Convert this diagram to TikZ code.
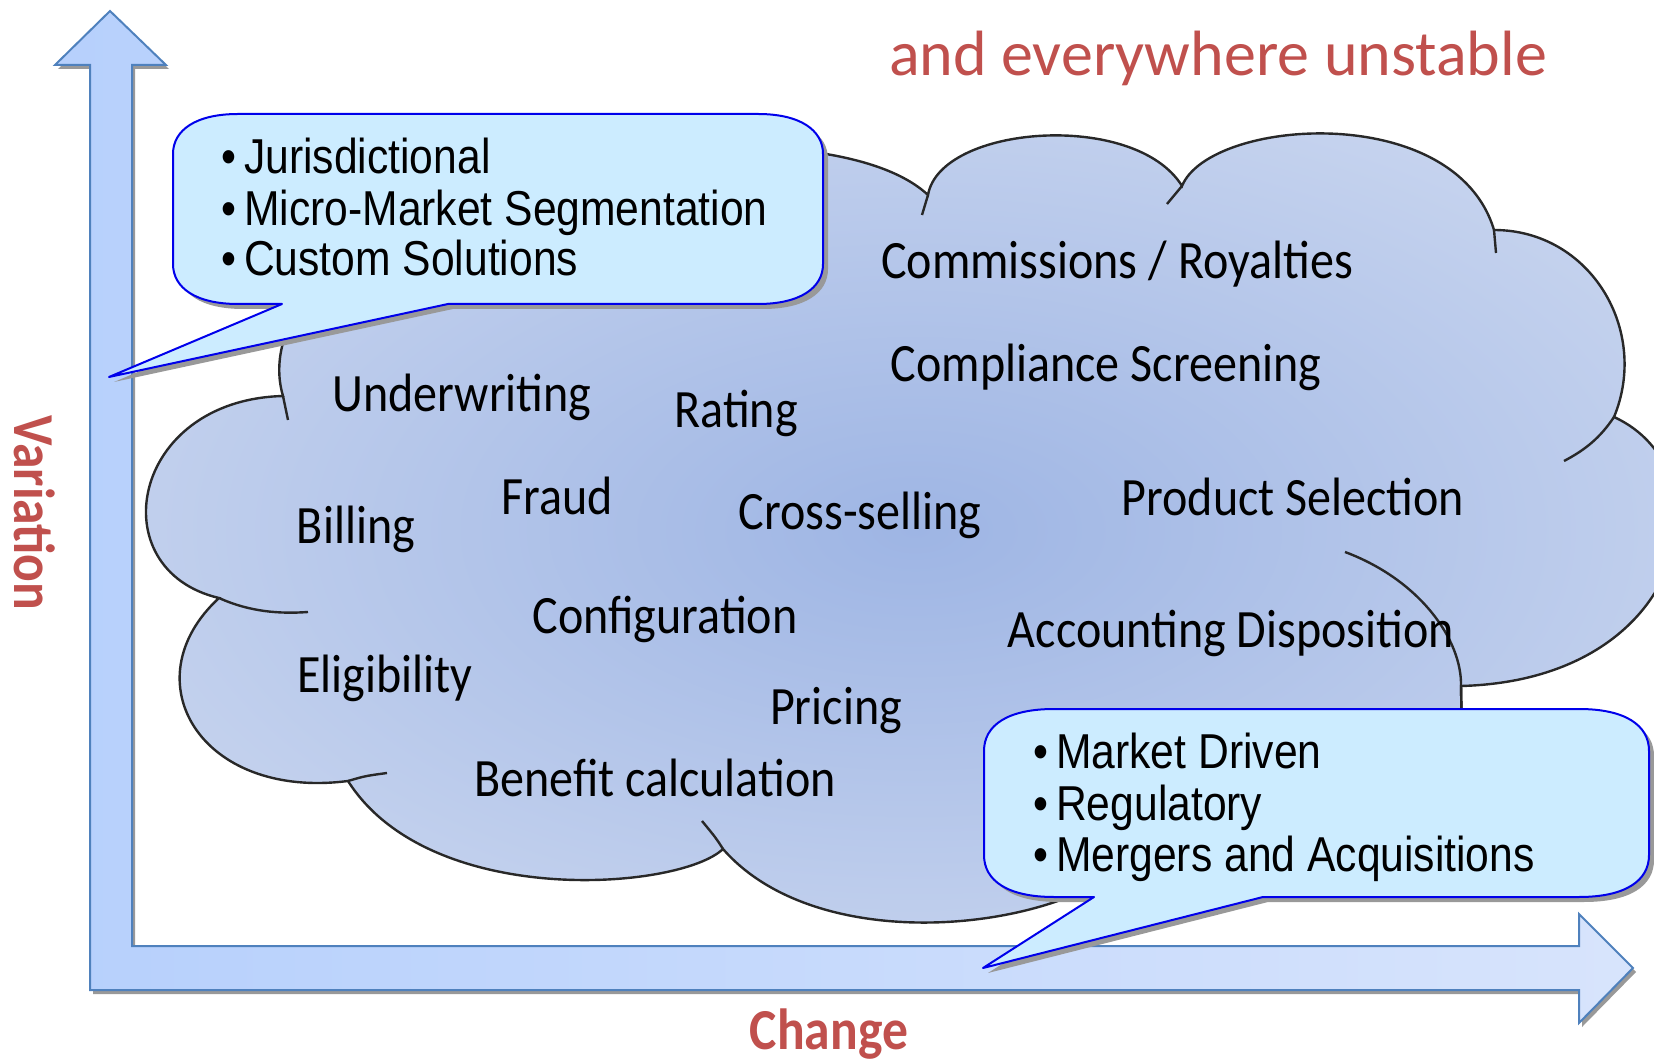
\documentclass[tikz,border=0pt]{standalone}
\usepackage{fontspec}
\setmainfont{Carlito}[FakeStretch=0.89]
\newfontfamily\titlefont{Carlito}
\newfontfamily\arialfont{Liberation Sans}[FakeStretch=0.87]
\usepackage{tikz}
\usetikzlibrary{positioning,calc}

\definecolor{titlered}{RGB}{192,80,77}
\definecolor{axisleft}{RGB}{166,198,252}
\definecolor{axisright}{RGB}{232,238,252}
\definecolor{axisline}{RGB}{79,129,189}
\definecolor{cloudmid}{RGB}{158,181,228}
\definecolor{cloudedge}{RGB}{224,231,245}
\definecolor{cloudline}{RGB}{40,40,40}
\definecolor{calloutfill}{RGB}{204,236,255}
\definecolor{calloutline}{RGB}{0,0,235}

\pgfdeclareradialshading{cloudshade}{\pgfpoint{0bp}{0bp}}{color(0bp)=(cloudmid); color(45bp)=(cloudedge); color(50bp)=(cloudedge)}
\pgfdeclarehorizontalshading{axisshade}{100bp}{color(0bp)=(axisleft); color(100bp)=(axisright)}

\begin{document}
\begin{tikzpicture}[x=0.5pt, y=-0.5pt,
            term/.style={font=\fontsize{27}{32}\selectfont, anchor=base, inner sep=0pt},
            bulletline/.style={font=\arialfont\fontsize{24.5}{29}\selectfont, anchor=base west, inner sep=0pt},
            axistitle/.style={font=\bfseries\fontsize{29}{34}\selectfont, text=titlered, inner sep=0pt},
            callout/.style={fill=calloutfill, draw=calloutline, line width=1pt, line join=round},
            dropshadow/.style={fill=black!40, draw=none},
            hook/.style={draw=cloudline, line width=1.2pt}]
        \useasboundingbox (0,0) rectangle (1654,1063);

        % axes
        \fill[dropshadow, shift={(3,4)}]
            (90,990) -- (90,65) -- (55,65) -- (110,11) -- (166,65) -- (132,65) -- (132,946)
            -- (1579,946) -- (1579,914) -- (1633,968) -- (1579,1023) -- (1579,990) -- cycle;
        \path[shading=axisshade, draw=axisline, line width=1pt]
            (90,990) -- (90,65) -- (55,65) -- (110,11) -- (166,65) -- (132,65) -- (132,946)
            -- (1579,946) -- (1579,914) -- (1633,968) -- (1579,1023) -- (1579,990) -- cycle;

        % cloud
        \path[shading=cloudshade, draw=cloudline, line width=1.2pt]
            (650,150) .. controls (760,140) and (880,150) .. (928,195)
            .. controls (940,125) and (1135,110) .. (1182,186)
            .. controls (1210,118) and (1455,100) .. (1494,230)
            .. controls (1590,230) and (1650,330) .. (1614,417)
            .. controls (1730,470) and (1690,680) .. (1461,686)
            -- (1462,740) -- (1300,860) -- (1130,860)
            .. controls (1060,930) and (820,960) .. (723,849)
            .. controls (680,890) and (430,910) .. (348,781)
            .. controls (200,800) and (130,680) .. (219,598)
            .. controls (100,570) and (130,400) .. (283,396)
            .. controls (275,370) and (278,330) .. (310,295)
            -- (400,230) -- cycle;
        \draw[hook] (928,195) -- (922,215);
        \draw[hook] (1182,186) -- (1167,204);
        \draw[hook] (1494,230) -- (1496,253);
        \draw[hook] (1614,417) .. controls (1600,438) and (1585,450) .. (1564,461);
        \draw[hook] (1345,552) .. controls (1420,580) and (1462,640) .. (1461,686) -- (1462,740);
        \draw[hook] (723,849) .. controls (716,838) .. (702,821);
        \draw[hook] (348,781) .. controls (365,776) .. (387,773);
        \draw[hook] (219,598) .. controls (250,612) and (280,614) .. (308,612);
        \draw[hook] (283,396) -- (288,420);

        \node[term] (comm) at (1117,279) {Commissions / Royalties};
        \node[term] (compl) at (1106,382) {Compliance Screening};
        \node[term] (underw) at (462,412) {Underwriting};
        \node[term] (rating) at (736,428) {Rating};
        \node[term] (billing) at (356,544) {Billing};
        \node[term] (fraud) at (557,515) {Fraud};
        \node[term] (cross) at (860,530) {Cross-selling};
        \node[term] (product) at (1293,516) {Product Selection};
        \node[term] (config) at (665,633) {Configuration};
        \node[term] (acct) at (1231,647) {Accounting Disposition};
        \node[term] (elig) at (385,692) {Eligibility};
        \node[term] (pricing) at (836,724) {Pricing};
        \node[term] (benefit) at (655,796) {Benefit calculation};

        % callouts
        \fill[dropshadow, shift={(5,5)}]
            (238,114) -- (758,114) .. controls (800,114) and (823,130) .. (823,154) -- (823,264)
            .. controls (823,288) and (800,304) .. (758,304) -- (448,304) -- (109,377) -- (282,304)
            -- (238,304) .. controls (196,304) and (173,288) .. (173,264) -- (173,154)
            .. controls (173,130) and (196,114) .. (238,114) -- cycle;
        \path[callout]
            (238,114) -- (758,114) .. controls (800,114) and (823,130) .. (823,154) -- (823,264)
            .. controls (823,288) and (800,304) .. (758,304) -- (448,304) -- (109,377) -- (282,304)
            -- (238,304) .. controls (196,304) and (173,288) .. (173,264) -- (173,154)
            .. controls (173,130) and (196,114) .. (238,114) -- cycle;
        \node[bulletline] (jur) at (221,174) {•\hspace{0.16em}Jurisdictional};
        \node[bulletline] (micro) at (221,226) {•\hspace{0.16em}Micro-Market Segmentation};
        \node[bulletline] (custom) at (221,276) {•\hspace{0.16em}Custom Solutions};

        \fill[dropshadow, shift={(5,5)}]
            (1054,709) -- (1579,709) .. controls (1625,709) and (1649,725) .. (1649,751) -- (1649,855)
            .. controls (1649,881) and (1625,897) .. (1579,897) -- (1263,897) -- (983,968) -- (1094,897)
            -- (1054,897) .. controls (1008,897) and (984,881) .. (984,855) -- (984,751)
            .. controls (984,725) and (1008,709) .. (1054,709) -- cycle;
        \path[callout]
            (1054,709) -- (1579,709) .. controls (1625,709) and (1649,725) .. (1649,751) -- (1649,855)
            .. controls (1649,881) and (1625,897) .. (1579,897) -- (1263,897) -- (983,968) -- (1094,897)
            -- (1054,897) .. controls (1008,897) and (984,881) .. (984,855) -- (984,751)
            .. controls (984,725) and (1008,709) .. (1054,709) -- cycle;
        \node[bulletline] (market) at (1033,768) {•\hspace{0.16em}Market Driven};
        \node[bulletline] (regul) at (1033,820) {•\hspace{0.16em}Regulatory};
        \node[bulletline] (merger) at (1033,871) {•\hspace{0.16em}Mergers and Acquisitions};

        % titles
        \node[anchor=base, inner sep=0pt, text=titlered, font=\titlefont\fontsize{32}{38}\selectfont]
            (unstable) at (1218,76) {and everywhere unstable};
        \node[axistitle, rotate=-90] (variation) at (35,513) {Variation};
        \node[axistitle, anchor=base] (change) at (829,1049) {Change};
\end{tikzpicture}
\end{document}
